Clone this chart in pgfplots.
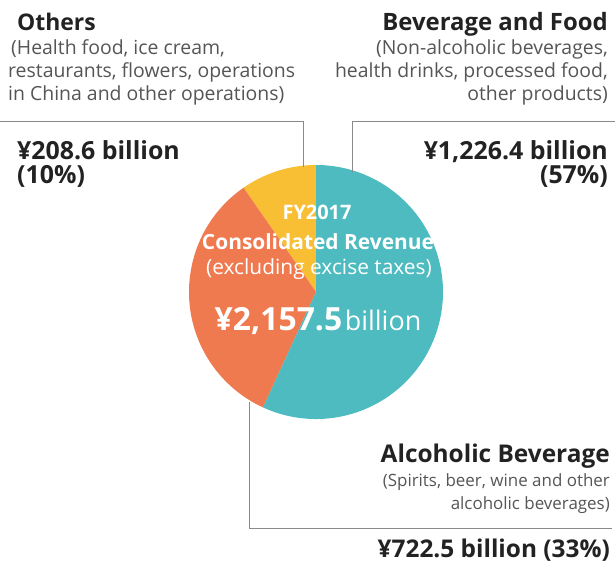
\documentclass[border=0pt]{standalone}
\usepackage{pgfplots}
\pgfplotsset{compat=1.18}
\usepackage{pgfplotstable}
\usepackage{fontspec}
\setmainfont{Open Sans}

\definecolor{bevcol}{HTML}{4DBBBF}
\definecolor{alccol}{HTML}{F07A50}
\definecolor{othcol}{HTML}{F8BE34}
\definecolor{leadcol}{HTML}{8A8A8A}
\definecolor{titlecol}{HTML}{222222}
\definecolor{subcol}{HTML}{555555}

% FY2017 consolidated revenue, billion yen
\pgfplotstableread{
segment value
Beverage 1226.4
Alcoholic 722.5
Others 208.6
}\revenue

\newcommand\fs[1]{\fontsize{#1}{#1}\selectfont}

\begin{document}
\begin{tikzpicture}
\pgfplotstablegetelem{0}{value}\of\revenue \let\vBev\pgfplotsretval
\pgfplotstablegetelem{1}{value}\of\revenue \let\vAlc\pgfplotsretval
\pgfplotstablegetelem{2}{value}\of\revenue \let\vOth\pgfplotsretval
\pgfmathsetmacro\total{\vBev+\vAlc+\vOth}
\pgfmathsetmacro\aOth{90+(\vOth/\total)*360}
\pgfmathsetmacro\aAlc{\aOth+(\vAlc/\total)*360}
\useasboundingbox (0,0) rectangle (615bp,566bp);
\begin{axis}[at={(0,0)}, anchor=south west, scale only axis,
  width=615bp, height=566bp, xmin=0, xmax=615, ymin=0, ymax=566,
  hide axis, clip=false]

% pie
\fill[othcol] (axis cs:316,274) -- ++(90:127bp) arc[start angle=90, end angle=\aOth, radius=127bp] -- cycle;
\fill[alccol] (axis cs:316,274) -- ++(\aOth:127bp) arc[start angle=\aOth, end angle=\aAlc, radius=127bp] -- cycle;
\fill[bevcol] (axis cs:316,274) -- ++(\aAlc:127bp) arc[start angle=\aAlc, end angle=450, radius=127bp] -- cycle;

% leader lines
\draw[leadcol, line width=1bp] (axis cs:0,444) -- (axis cs:303,444) -- (axis cs:303,399);
\draw[leadcol, line width=1bp] (axis cs:615,444) -- (axis cs:352,444) -- (axis cs:352,394);
\draw[leadcol, line width=1bp] (axis cs:249,164) -- (axis cs:249,37) -- (axis cs:612,37);

% Others
\node[anchor=base west, inner sep=0, text=titlecol, font=\bfseries\fs{23}] at (axis cs:17,535) {Others};
\begin{scope}[every node/.style={anchor=base west, inner sep=0, text=subcol, font=\fs{19.5}}]
\node at (axis cs:11,511) {(Health food, ice cream,};
\node at (axis cs:8,488) {restaurants, flowers, operations};
\node at (axis cs:8,465) {in China and other operations)};
\end{scope}
\node[anchor=base west, inner sep=0, text=titlecol, font=\bfseries\fs{25}] at (axis cs:17,406) {¥208.6 billion};
\node[anchor=base west, inner sep=0, text=titlecol, font=\bfseries\fs{25}] at (axis cs:17,382) {(10\%)};

% Beverage and Food
\node[anchor=base east, inner sep=0, text=titlecol, font=\bfseries\fs{24}] at (axis cs:608,535) {Beverage and Food};
\begin{scope}[every node/.style={anchor=base east, inner sep=0, text=subcol, font=\fs{19.5}}]
\node at (axis cs:608,511) {(Non-alcoholic beverages,};
\node at (axis cs:608,488) {health drinks, processed food,};
\node at (axis cs:608,465) {other products)};
\end{scope}
\node[anchor=base east, inner sep=0, text=titlecol, font=\bfseries\fs{25}] at (axis cs:608,406) {¥1,226.4 billion};
\node[anchor=base east, inner sep=0, text=titlecol, font=\bfseries\fs{25}] at (axis cs:608,382) {(57\%)};

% Alcoholic Beverage
\node[anchor=base east, inner sep=0, text=titlecol, font=\bfseries\fs{24.5}] at (axis cs:610,103) {Alcoholic Beverage};
\begin{scope}[every node/.style={anchor=base east, inner sep=0, text=subcol, font=\fs{17}}]
\node at (axis cs:610,79) {(Spirits, beer, wine and other};
\node at (axis cs:610,56) {alcoholic beverages)};
\end{scope}
\node[anchor=base east, inner sep=0, text=titlecol, font=\bfseries\fs{24.5}] at (axis cs:610,9) {¥722.5 billion (33\%)};

% centre text
\begin{scope}[every node/.style={anchor=base, inner sep=0, text=white}]
\node[font=\bfseries\fs{20}] at (axis cs:317,346) {FY2017};
\node[font=\bfseries\fs{21}] at (axis cs:318,316) {Consolidated Revenue};
\node[font=\fs{21}] at (axis cs:319,291) {(excluding excise taxes)};
\node at (axis cs:318,235) {{\bfseries\fs{32}¥2,157.5} {\fs{27}billion}};
\end{scope}
\end{axis}
\end{tikzpicture}
\end{document}
